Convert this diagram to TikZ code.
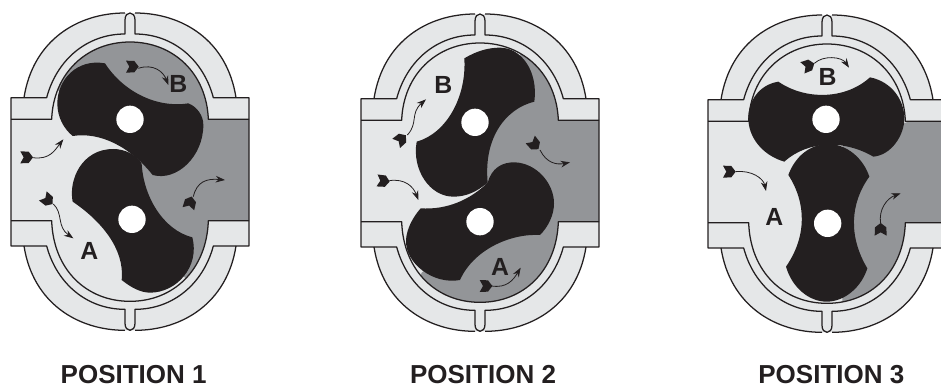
\documentclass[tikz,border=0pt]{standalone}
\usepackage{fontspec}
\setmainfont{Liberation Sans}
\usetikzlibrary{arrows.meta}
\definecolor{ink}{HTML}{231F20}
\definecolor{lightfill}{HTML}{E5E7E8}
\definecolor{darkfill}{HTML}{939598}
\tikzset{
  hline/.style={draw=ink,line width=0.95pt,line join=round},
  rotor/.style={fill=ink},
  hole/.style={fill=white},
  flow/.style={draw=ink,line width=0.6pt,-{Stealth[length=7pt,width=5pt]}},
  letter/.style={font=\bfseries\fontsize{18.6}{18.6}\selectfont,text=ink,inner sep=0pt},
  caption/.style={font=\bfseries\fontsize{19.5}{19.5}\selectfont,text=ink,inner sep=0pt},
}
\newcommand{\housingfill}{%
  \fill[lightfill] (33,293) -- (72,293) .. controls (99,120) and (234,39) .. (390,39)
    .. controls (546,39) and (681,120) .. (708,293) -- (747,293) -- (747,738) -- (708,738)
    .. controls (681,910) and (546,991) .. (390,991)
    .. controls (234,991) and (99,910) .. (72,738) -- (33,738) -- cycle;
}
\newcommand{\cavitypath}{%
  (33,358) -- (155,358) .. controls (160,220) and (260,126) .. (390,126)
    .. controls (520,126) and (620,220) .. (625,358) -- (747,358) -- (747,662) -- (625,662)
    .. controls (620,810) and (520,904) .. (390,904)
    .. controls (260,904) and (160,810) .. (155,662) -- (33,662) -- cycle
}
\newcommand{\housinglines}{%
  \draw[hline] (72,293) .. controls (99,120) and (234,39) .. (375,39);
  \draw[hline] (405,39) .. controls (546,39) and (681,120) .. (708,293);
  \draw[hline] (72,738) .. controls (99,910) and (234,991) .. (375,991);
  \draw[hline] (405,991) .. controls (546,991) and (681,910) .. (708,738);
  \draw[hline] (33,293) -- (140,293) .. controls (170,180) and (260,102) .. (375,102)
    -- (375,60) .. controls (375,32) and (405,32) .. (405,60) -- (405,102)
    .. controls (520,102) and (610,180) .. (640,293) -- (747,293) -- (747,738) -- (640,738)
    .. controls (610,850) and (520,928) .. (405,928) -- (405,970)
    .. controls (405,998) and (375,998) .. (375,970) -- (375,928)
    .. controls (260,928) and (170,850) .. (140,738) -- (33,738) -- cycle;
  \draw[hline] (33,358) -- (155,358) .. controls (160,220) and (260,126) .. (390,126)
    .. controls (520,126) and (620,220) .. (625,358) -- (747,358);
  \draw[hline] (33,662) -- (155,662) .. controls (160,810) and (260,904) .. (390,904)
    .. controls (520,904) and (620,810) .. (625,662) -- (747,662);
}
\newcommand{\fletch}[3]{%
  \fill[ink,shift={(#1,#2)},rotate=#3] (-19,-18) -- (6,-17) -- (19,0) -- (6,17) -- (-19,18) -- (-9,0) -- cycle;
}
\begin{document}
\begin{tikzpicture}[x=0.25pt,y=-0.25pt]
\useasboundingbox (0,0) rectangle (2823,1164);
\clip (0,0) rectangle (2823,1164);

% ---------- POSITION 1
\begin{scope}
  \housingfill
  \begin{scope}
    \clip \cavitypath;
    \fill[darkfill] (172,270) -- (400,400) -- (425,490) -- (425,600) -- (470,720) -- (560,840) -- (590,1000) -- (800,1000) -- (800,60) -- (172,60) -- cycle;
  \end{scope}
  \housinglines
  \fill[rotor] (315,190) .. controls (230,175) and (172,240) .. (172,310)
    .. controls (172,350) and (190,385) .. (218,408)
    .. controls (300,395) and (390,440) .. (458,525)
    .. controls (530,545) and (610,470) .. (610,375)
    .. controls (610,345) and (590,320) .. (565,310)
    .. controls (470,325) and (370,275) .. (315,190) -- cycle;
  \fill[rotor] (218,605) .. controls (205,540) and (245,447) .. (340,447)
    .. controls (375,447) and (410,465) .. (425,490)
    .. controls (430,590) and (490,690) .. (577,712)
    .. controls (600,800) and (530,878) .. (450,878)
    .. controls (420,878) and (390,860) .. (365,840)
    .. controls (375,745) and (300,660) .. (218,605) -- cycle;
  \fill[hole] (390,358) circle (41);
  \fill[hole] (396,658) circle (41);
  \fletch{80}{472}{0}
  \draw[flow] (98,473) .. controls (150,480) and (165,450) .. (190,418);
  \fletch{143}{600}{-40}
  \draw[flow] (160,612) .. controls (190,640) and (170,680) .. (220,715);
  \fletch{397}{200}{0}
  \draw[flow] (415,205) .. controls (460,190) and (490,215) .. (505,255);
  \fletch{570}{608}{75}
  \draw[flow] (580,590) .. controls (590,545) and (620,535) .. (675,540);
  \node[letter] (a1) at (268,753) {A};
  \node[letter] (b1) at (535,252) {B};
\end{scope}
\node[caption] (cap1) at (401,1125) {POSITION 1};

% ---------- POSITION 2
\begin{scope}[shift={(1050,3)}]
  \housingfill
  \begin{scope}
    \clip \cavitypath;
    \fill[darkfill] (510,60) -- (510,165) -- (470,340) -- (400,440) -- (400,540) -- (430,600) -- (300,750) -- (215,815) -- (150,1000) -- (800,1000) -- (800,60) -- cycle;
  \end{scope}
  \housinglines
\end{scope}
\begin{scope}[shift={(1050,0)}]
  \fill[rotor] (343,175) .. controls (385,150) and (420,143) .. (450,143)
    .. controls (515,143) and (565,215) .. (553,305)
    .. controls (470,325) and (400,410) .. (413,548)
    .. controls (380,575) and (350,590) .. (310,590)
    .. controls (240,590) and (185,510) .. (200,425)
    .. controls (290,400) and (350,290) .. (343,175) -- cycle;
  \fill[rotor] (212,625) .. controls (290,630) and (360,600) .. (413,548)
    .. controls (425,505) and (455,486) .. (495,487)
    .. controls (560,490) and (612,550) .. (612,610)
    .. controls (612,645) and (595,680) .. (570,705)
    .. controls (480,700) and (370,750) .. (330,840)
    .. controls (250,855) and (165,790) .. (168,720)
    .. controls (170,685) and (190,650) .. (212,625) -- cycle;
  \fill[hole] (375,367) circle (41);
  \fill[hole] (390,665) circle (41);
  \fletch{153}{418}{40}
  \draw[flow] (172,405) .. controls (205,370) and (180,340) .. (228,298);
  \fletch{100}{543}{-5}
  \draw[flow] (118,542) .. controls (165,535) and (190,560) .. (205,600);
  \fletch{553}{433}{-50}
  \draw[flow] (570,450) .. controls (590,490) and (620,495) .. (660,487);
  \fletch{408}{858}{0}
  \draw[flow] (425,858) .. controls (470,865) and (490,840) .. (512,803);
  \node[letter] (a2) at (450,802) {A};
  \node[letter] (b2) at (280,256) {B};
\end{scope}
\node[caption] (cap2) at (1449,1125) {POSITION 2};

% ---------- POSITION 3
\begin{scope}[shift={(2091,6)}]
  \housingfill
  \begin{scope}
    \clip \cavitypath;
    \fill[darkfill] (436,432) -- (634,359) -- (900,359) -- (900,1100) -- (436,1100) -- cycle;
  \end{scope}
  \housinglines
\end{scope}
\begin{scope}[shift={(2085,0)}]
  \fill[rotor] (250,245) .. controls (330,300) and (450,300) .. (525,232)
    .. controls (590,245) and (628,300) .. (628,355)
    .. controls (628,405) and (590,465) .. (535,470)
    .. controls (450,420) and (340,420) .. (268,485)
    .. controls (200,465) and (160,410) .. (160,355)
    .. controls (160,305) and (190,255) .. (250,245) -- cycle;
  \fill[rotor] (280,525) .. controls (300,470) and (345,432) .. (400,432)
    .. controls (455,432) and (505,475) .. (523,530)
    .. controls (465,610) and (460,710) .. (517,805)
    .. controls (500,860) and (450,905) .. (395,905)
    .. controls (340,905) and (290,860) .. (273,800)
    .. controls (335,710) and (335,610) .. (280,525) -- cycle;
  \fill[hole] (393,358) circle (41);
  \fill[hole] (398,670) circle (41);
  \fletch{103}{515}{0}
  \draw[flow] (122,515) .. controls (170,510) and (205,535) .. (213,573);
  \fletch{340}{197}{20}
  \draw[flow] (358,190) .. controls (385,165) and (440,170) .. (462,203);
  \fletch{557}{688}{90}
  \draw[flow] (557,670) .. controls (550,630) and (575,595) .. (617,580);
  \node[letter] (a3) at (238,650) {A};
  \node[letter] (b3) at (398,232) {B};
\end{scope}
\node[caption] (cap3) at (2494,1125) {POSITION 3};
\end{tikzpicture}
\end{document}
